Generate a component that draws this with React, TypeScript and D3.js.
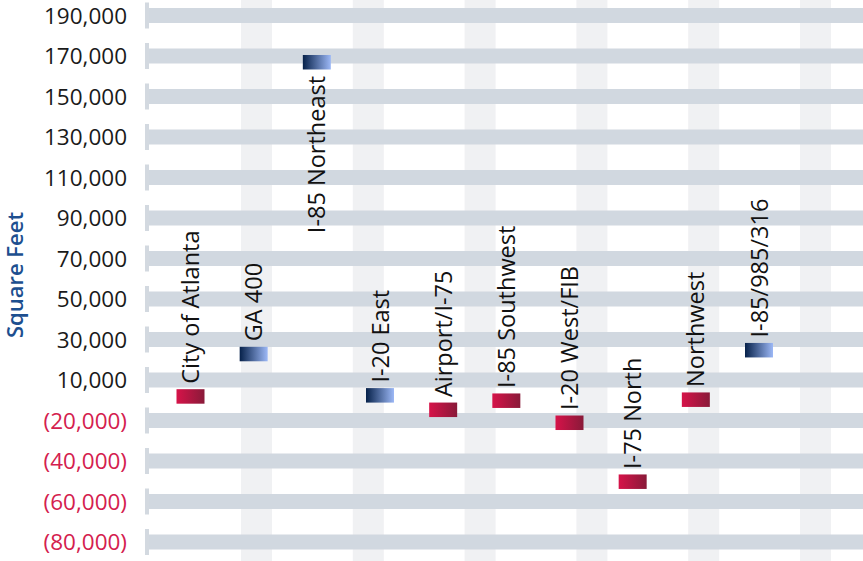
import React from "react";
import * as d3 from "d3";

// Submarket names, left to right
const categories = [
  "City of Atlanta",
  "GA 400",
  "I-85 Northeast",
  "I-20 East",
  "Airport/I-75",
  "I-85 Southwest",
  "I-20 West/FIB",
  "I-75 North",
  "Northwest",
  "I-85/985/316",
];

// Net change in square feet per submarket
const values = [-1700, 26400, 170500, 6000, -8300, -3800, -14700, -43800, -3300, 28300];

// Gridline positions on the value axis and the text printed beside each one
const tickValues = [
  190000, 170000, 150000, 130000, 110000, 90000, 70000, 50000, 30000, 10000,
  -10000, -30000, -50000, -70000,
];
const tickLabels = [
  "190,000", "170,000", "150,000", "130,000", "110,000", "90,000", "70,000",
  "50,000", "30,000", "10,000", "(20,000)", "(40,000)", "(60,000)", "(80,000)",
];

const axisTitle = "Square Feet";
const stripeIndex = [0, 1, 2, 3, 4, 5];

const W = 863;
const H = 561;
const FONT = "'Open Sans', 'Noto Sans', sans-serif";

export default function App() {
  const plotLeft = 148;

  const y = d3.scaleLinear().domain([10000, 190000]).range([380, 15.5]);
  const x = d3.scalePoint<string>().domain(categories).range([190.5, 759]);
  const stripeX = d3.scaleLinear().domain([0, 5]).range([241, 800]);

  const bandH = 15;
  const markW = 28;
  const markH = 14.5;
  const labelSize = 23.5;

  return (
    <svg
      width={W}
      height={H}
      viewBox={`0 0 ${W} ${H}`}
      style={{ position: "absolute", left: 0, top: 0, background: "#fff" }}
      fontFamily={FONT}
    >
      <defs>
        <linearGradient id="gradUp" x1="0" x2="1" y1="0" y2="0">
          <stop offset="0%" stopColor="#06214a" />
          <stop offset="100%" stopColor="#9cb8f6" />
        </linearGradient>
        <linearGradient id="gradDown" x1="0" x2="1" y1="0" y2="0">
          <stop offset="0%" stopColor="#d61349" />
          <stop offset="100%" stopColor="#891a39" />
        </linearGradient>
      </defs>

      {/* vertical background stripes */}
      {stripeIndex.map((i) => (
        <rect key={`s${i}`} x={stripeX(i)} y={0} width={31} height={H} fill="#f0f1f3" />
      ))}

      {/* horizontal gridline bands with their small left ticks */}
      {tickValues.map((t) => (
        <g key={`g${t}`}>
          <rect x={plotLeft} y={y(t) - bandH / 2} width={W - plotLeft} height={bandH} fill="#d1d8e0" />
          <rect x={145} y={y(t) - 13} width={4} height={26} fill="#d3d9e0" />
        </g>
      ))}

      {/* axis labels */}
      {tickValues.map((t, i) => (
        <text
          key={`l${t}`}
          x={127}
          y={y(t) + 8}
          textAnchor="end"
          fontSize={22.5}
          fill={t < 0 ? "#d4204e" : "#1a1a1a"}
        >
          {tickLabels[i]}
        </text>
      ))}

      <text
        transform={`translate(23, 275) rotate(-90)`}
        textAnchor="middle"
        fontSize={22}
        fontWeight={600}
        fill="#1d4f8f"
      >
        {axisTitle}
      </text>

      {/* value markers and their names */}
      {categories.map((c, i) => {
        const v = values[i];
        const cx = x(c) as number;
        const top = v >= 0 ? y(v) : y(v) - markH;
        const bottom = top + markH;
        const estLen = c.length * 0.48 * labelSize;
        const below = top - estLen < 0;
        const ly = below ? bottom + 6.5 : top - 5.5;
        return (
          <g key={c}>
            <rect
              x={cx - markW / 2}
              y={top}
              width={markW}
              height={markH}
              fill={v >= 0 ? "url(#gradUp)" : "url(#gradDown)"}
            />
            <text
              transform={`translate(${cx + 8.5}, ${ly}) rotate(-90)`}
              textAnchor={below ? "end" : "start"}
              fontSize={labelSize}
              fill="#111"
            >
              {c}
            </text>
          </g>
        );
      })}
    </svg>
  );
}
